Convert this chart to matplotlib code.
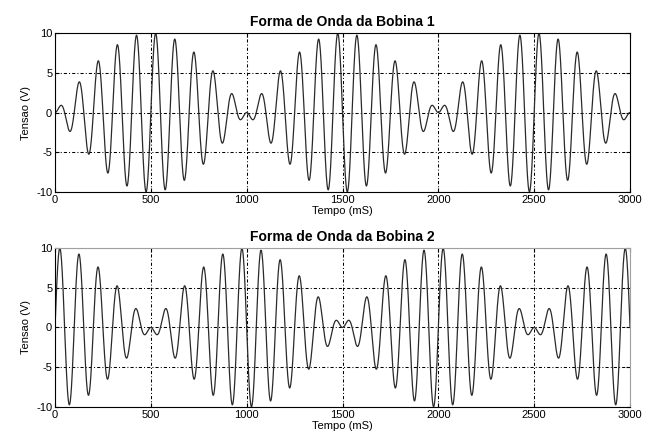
import matplotlib
matplotlib.use('Agg')
import matplotlib.pyplot as plt
import numpy as np

plt.rcParams['font.family'] = ['Liberation Sans', 'DejaVu Sans']
plt.rcParams['axes.unicode_minus'] = False

# parametros
amplitude = 10          # V
periodo_bat = 2000      # ms (envelope zera a cada 1000 ms)
periodo_port = 100      # ms (portadora)
t_max = 3000            # ms
passo = 1               # ms

titulos = ['Forma de Onda da Bobina 1', 'Forma de Onda da Bobina 2']
xticks = [0, 500, 1000, 1500, 2000, 2500, 3000]
yticks = [-10, -5, 0, 5, 10]

t = np.arange(0, t_max + passo, passo)
portadora = np.sin(2 * np.pi * t / periodo_port)
bobina1 = amplitude * np.sin(2 * np.pi * t / periodo_bat) * portadora
bobina2 = amplitude * np.cos(2 * np.pi * t / periodo_bat) * portadora
sinais = [bobina1, bobina2]

fig = plt.figure(figsize=(6.45, 4.38), dpi=100)
pos = [[0.0853, 0.5616, 0.8915, 0.363], [0.0853, 0.0708, 0.8915, 0.363]]

for i, (p, y, tit) in enumerate(zip(pos, sinais, titulos)):
    ax = fig.add_axes(p)
    ax.plot(t, y, color='#2a2a2a', lw=0.9)
    ax.set_xlim(0, t_max)
    ax.set_ylim(-10, 10)
    ax.set_xticks(xticks)
    ax.set_yticks(yticks)
    ax.tick_params(direction='in', length=3, labelsize=8, pad=2, top=True, right=True)
    ax.grid(True, color='black', linestyle=(0, (3, 2, 1, 2)), linewidth=0.75)
    for s in ax.spines.values():
        s.set_linewidth(0.8)
    if i == 1:
        ax.spines['top'].set_color('#a0a0a0')
        ax.spines['right'].set_color('#a0a0a0')
    ax.set_title(tit, fontsize=10, fontweight='bold', pad=5)
    ax.set_xlabel('Tempo (mS)', fontsize=8, labelpad=1)
    ax.set_ylabel('Tensao (V)', fontsize=8, labelpad=4)

fig.savefig('out.png', dpi=100)
